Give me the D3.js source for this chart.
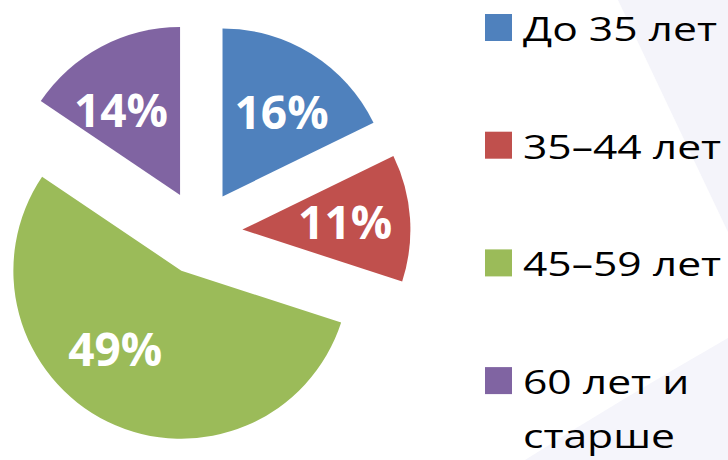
<!DOCTYPE html>
<html>
<head>
<meta charset="utf-8">
<script src="https://cdn.jsdelivr.net/npm/d3@7"></script>
<style>
  body { margin: 0; background: #fff; }
  svg { display: block; }
</style>
</head>
<body>
<svg id="chart" width="728" height="460"></svg>
<script>
// data
var categories = ["До 35 лет", "35–44 лет", "45–59 лет", "60 лет и старше"];
var legendLines = [["До 35 лет"], ["35–44 лет"], ["45–59 лет"], ["60 лет и", "старше"]];
var values = [16, 11, 49, 14];
var labels = ["16%", "11%", "49%", "14%"];
var colors = ["#4F81BD", "#C0504D", "#9BBB59", "#8064A2"];

// layout
var cx = 200, cy = 232.5, radius = 168, explode = 42.5;
var labelR = 103;
var labelShift = [3, 0, 14, -7]; // degrees, nudge like excel's best fit

var svg = d3.select("#chart");

// faint background shapes of the slide
svg.append("path")
    .attr("d", "M618,0 Q670,110 728,232 L728,0 Z")
    .attr("fill", "#F4F4FA");
svg.append("path")
    .attr("d", "M728,338 Q620,400 525,460 L728,460 Z")
    .attr("fill", "#F5F5FB");

var pie = d3.pie().sort(null).value(function(d) { return d; });
var arcs = pie(values);

var arc = d3.arc().innerRadius(0).outerRadius(radius);

var g = svg.append("g")
    .attr("transform", "translate(" + cx + "," + cy + ")");

var slice = g.selectAll(".slice")
    .data(arcs)
  .enter().append("g")
    .attr("class", "slice")
    .attr("transform", function(d) {
      var mid = (d.startAngle + d.endAngle) / 2;
      return "translate(" + (Math.sin(mid) * explode) + "," + (-Math.cos(mid) * explode) + ")";
    });

slice.append("path")
    .attr("d", arc)
    .attr("fill", function(d, i) { return colors[i]; });

slice.append("text")
    .attr("x", function(d, i) {
      var a = (d.startAngle + d.endAngle) / 2 + labelShift[i] * Math.PI / 180;
      return Math.sin(a) * labelR;
    })
    .attr("y", function(d, i) {
      var a = (d.startAngle + d.endAngle) / 2 + labelShift[i] * Math.PI / 180;
      return -Math.cos(a) * labelR;
    })
    .attr("dy", "0.36em")
    .attr("text-anchor", "middle")
    .attr("fill", "#fff")
    .style("font-family", "'Open Sans', sans-serif")
    .style("font-weight", "bold")
    .style("font-size", "46px")
    .text(function(d, i) { return labels[i]; });

// legend
var legendY = d3.scaleBand()
    .domain(categories)
    .range([14, 14 + 117.7 * 4]);

var legend = svg.selectAll(".legend")
    .data(categories)
  .enter().append("g")
    .attr("class", "legend")
    .attr("transform", function(d) { return "translate(485," + legendY(d) + ")"; });

legend.append("rect")
    .attr("width", 27)
    .attr("height", 27)
    .attr("fill", function(d, i) { return colors[i]; });

var textGroups = [];
legend.each(function(d, i) {
  var t = d3.select(this).append("g");
  legendLines[i].forEach(function(line, j) {
    t.append("text")
        .attr("x", 0)
        .attr("y", j * 54)
        .attr("fill", "#000")
        .style("font-family", "'Open Sans', sans-serif")
        .style("font-size", "33px")
        .text(line);
  });
  textGroups.push(t);
});

// the slide text is stretched sideways; fit first entry to ~194px
var natural = textGroups[0].select("text").node().getComputedTextLength();
var stretch = 194 / natural;
textGroups.forEach(function(t) {
  t.attr("transform", "translate(38,27) scale(" + stretch + ",1)");
});
</script>
</body>
</html>
